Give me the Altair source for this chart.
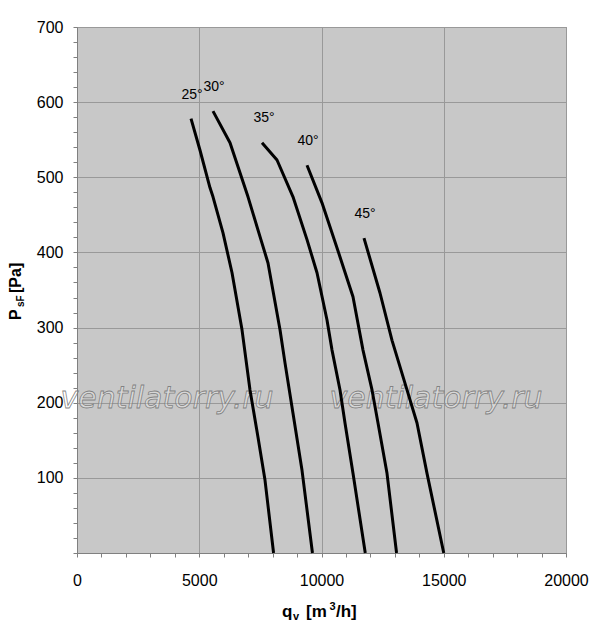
import altair as alt
import pandas as pd

# ---- data ----
angles = ["25°", "30°", "35°", "40°", "45°"]

q25 = [4663, 5031, 5440, 5562, 5971, 6340, 6749, 7076, 7403, 7689, 8040]
p25 = [578, 536, 486, 474, 426, 373, 297, 217, 154, 97, 0]

q30 = [5562, 6258, 6994, 7485, 7812, 8303, 8507, 8834, 9203, 9630]
p30 = [588, 546, 474, 421, 386, 297, 253, 186, 110, 0]

q35 = [7567, 8180, 8834, 9407, 9816, 10225, 10430, 10757, 10961, 11288, 11790]
p35 = [546, 523, 474, 417, 373, 310, 270, 217, 173, 106, 0]

q40 = [9407, 10020, 10757, 11288, 11697, 12066, 12311, 12679, 13070]
p40 = [516, 466, 394, 341, 270, 217, 173, 106, 0]

q45 = [11738, 12393, 12884, 13497, 13906, 14315, 15000]
p45 = [419, 346, 283, 217, 173, 106, 0]

label_q = [4704, 5603, 7648, 9448, 11779]
label_p = [609, 620, 579, 548, 451]

wm_text = ["ventilatorry.ru", "ventilatorry.ru"]
wm_q = [3681, 14683]
wm_p = [193, 193]

x_ticks = list(range(0, 20001, 1000))
y_ticks = list(range(0, 701, 20))

# ---- tables ----
rows = []
for name, qs, ps in zip(angles, [q25, q30, q35, q40, q45], [p25, p30, p35, p40, p45]):
    for i, (q, p) in enumerate(zip(qs, ps)):
        rows.append({"angle": name, "i": i, "q": q, "P": p})
lines_df = pd.DataFrame(rows)
labels_df = pd.DataFrame({"angle": angles, "q": label_q, "P": label_p})
wm_df = pd.DataFrame({"t": wm_text, "q": wm_q, "P": wm_p})

xscale = alt.Scale(domain=[0, 20000], nice=False, zero=False)
yscale = alt.Scale(domain=[0, 700], nice=False, zero=False)

x_axis = alt.Axis(
    values=x_ticks, format="d", title=None,
    labelExpr="datum.value % 5000 === 0 ? datum.label : ''",
    grid=True, gridColor="#999999", gridWidth=1,
    gridOpacity={"condition": {"test": "datum.value % 5000 === 0", "value": 1}, "value": 0},
    tickSize=4, tickColor="#808080", domainColor="#808080",
    labelPadding=15, labelFont="Liberation Sans", labelFontSize=16,
    labelColor="#000000", labelFlush=False, labelOverlap=False, labelBound=False,
)
y_axis = alt.Axis(
    values=y_ticks, format="d", title=None,
    labelExpr="(datum.value % 100 === 0 && datum.value > 0) ? datum.label : ''",
    grid=True, gridColor="#999999", gridWidth=1,
    gridOpacity={"condition": {"test": "datum.value % 100 === 0", "value": 1}, "value": 0},
    tickSize=4, tickColor="#808080", domainColor="#808080",
    labelPadding=10, labelFont="Liberation Sans", labelFontSize=16,
    labelColor="#000000", labelFlush=False, labelOverlap=False, labelBound=False,
)

X = alt.X("q:Q", scale=xscale, axis=x_axis)
Y = alt.Y("P:Q", scale=yscale, axis=y_axis)

watermark = alt.Chart(wm_df).mark_text(
    font="DejaVu Sans", fontStyle="italic", fontSize=30,
    align="center", baseline="alphabetic",
    fill="#ffffff", fillOpacity=0.3, stroke="#777777", strokeWidth=0.8, strokeOpacity=0.9,
).encode(x=X, y=Y, text="t:N")

lines = alt.Chart(lines_df).mark_line(
    color="black", strokeWidth=3, strokeCap="butt", strokeJoin="round"
).encode(x=X, y=Y, detail="angle:N", order="i:Q")

labels = alt.Chart(labels_df).mark_text(
    font="Liberation Sans", fontSize=14, color="black", align="center", baseline="middle"
).encode(x=X, y=Y, text="angle:N")


def title_piece(txt, x, y, size, angle=0):
    return alt.Chart(pd.DataFrame({"t": [txt]})).mark_text(
        font="Liberation Sans", fontWeight="bold", fontSize=size, color="black",
        align="left", baseline="alphabetic", angle=angle,
    ).encode(x=alt.value(x), y=alt.value(y), text="t:N")


titles = [
    # y axis title: P_sF [Pa]
    title_piece("P", -56, 293, 16, 270),
    title_piece("sF", -53, 280, 10, 270),
    title_piece("[Pa]", -56, 266, 16, 270),
    # x axis title: q_v [m^3/h]
    title_piece("q", 205, 590, 17),
    title_piece("v", 216, 593, 11),
    title_piece("[m", 229, 590, 17),
    title_piece("3", 252.5, 583, 11),
    title_piece("/h]", 259, 590, 17),
]

chart = alt.layer(watermark, lines, labels, *titles).properties(
    width=489, height=526,
    autosize=alt.AutoSizeParams(type="none"),
    padding={"left": 69, "top": 19, "right": 26, "bottom": 74},
    background="white",
).configure_view(fill="#c8c8c8", stroke="#808080", strokeWidth=1)

chart.save("out.html", embed_options={"renderer": "svg", "actions": False})
